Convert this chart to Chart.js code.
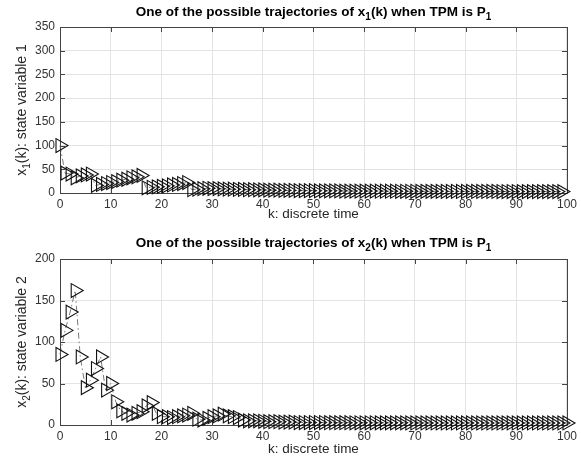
<!DOCTYPE html>
<html>
<head>
<meta charset="utf-8">
<script src="https://cdn.jsdelivr.net/npm/chart.js@4/dist/chart.umd.min.js"></script>
<style>
  html, body { margin: 0; padding: 0; background: #fff; }
  #wrap { position: relative; width: 581px; height: 461px; }
  .pane { position: absolute; left: 0; width: 581px; }
  #pane1 { top: 0; height: 230px; }
  #pane2 { top: 230px; height: 231px; }
</style>
</head>
<body>
<div id="wrap">
  <div class="pane" id="pane1"><canvas id="chart1"></canvas></div>
  <div class="pane" id="pane2"><canvas id="chart2"></canvas></div>
</div>
<script>
// Trajectories of the two state variables, k = 0..100

// state variable 1
var x1Values = [
  100,
  42, 40, 32, 36, 38, 40,
  16, 18, 20, 22, 24, 27, 29, 32, 34, 37,
  11, 12, 13, 14, 15, 17, 18, 20, 22,
  7, 8, 9, 10,
  9, 9, 8.5, 8, 8, 7.5, 7.5, 7, 7, 6.5,
  6.5, 6, 6, 6, 5.5, 5.5, 5.5, 5, 5, 5,
  5, 4.5, 4.5, 4.5, 4.5, 4.5, 4, 4, 4, 4,
  4, 4, 4, 3.8, 3.8, 3.8, 3.8, 3.6, 3.6, 3.6,
  3.6, 3.5, 3.5, 3.5, 3.5, 3.4, 3.4, 3.4, 3.4, 3.3,
  3.3, 3.3, 3.3, 3.2, 3.2, 3.2, 3.2, 3.1, 3.1, 3.1,
  3.1, 3, 3, 3, 3, 3, 3, 3, 3, 3
];

// state variable 2
var x2Values = [
  85, 114, 136, 162, 82, 45, 54, 68, 82, 42,
  50, 28, 17, 14, 12, 14, 16, 23, 27, 14,
  10, 10, 9, 10, 11, 12, 14, 7, 6, 8,
  10, 11, 13, 11, 10, 9, 6, 5, 5, 5,
  4.5, 4, 4, 4, 3.5, 3.5, 3.5, 3, 3, 3,
  3, 3, 3, 2.8, 2.8, 2.8, 2.8, 2.8, 2.7, 2.7,
  2.7, 2.7, 2.7, 2.6, 2.6, 2.6, 2.6, 2.6, 2.6, 2.5,
  2.5, 2.5, 2.5, 2.5, 2.5, 2.5, 2.5, 2.5, 2.5, 2.5,
  2.5, 2.5, 2.5, 2.5, 2.5, 2.5, 2.5, 2.5, 2.5, 2.5,
  2.5, 2.5, 2.5, 2.5, 2.5, 2.5, 2.5, 2.5, 2.5, 2.5,
  2.5
];

var xTicks = [0, 10, 20, 30, 40, 50, 60, 70, 80, 90, 100];
var y1Ticks = [0, 50, 100, 150, 200, 250, 300, 350];
var y2Ticks = [0, 50, 100, 150, 200];

var title1 = [{ t: 'One of the possible trajectories of x' }, { t: '1', sub: true }, { t: '(k) when TPM is P' }, { t: '1', sub: true }];
var title2 = [{ t: 'One of the possible trajectories of x' }, { t: '2', sub: true }, { t: '(k) when TPM is P' }, { t: '1', sub: true }];
var yLabel1 = [{ t: 'x' }, { t: '1', sub: true }, { t: '(k): state variable 1' }];
var yLabel2 = [{ t: 'x' }, { t: '2', sub: true }, { t: '(k): state variable 2' }];
var xLabel = 'k: discrete time';

var FONT = '"Liberation Sans", Arial, Helvetica, sans-serif';
var AXIS_COLOR = '#444';
var GRID_COLOR = '#e3e3e3';

// draw a string with subscript pieces, centred on x
function drawRich(ctx, parts, x, y, size, weight) {
  var subSize = Math.round(size * 0.72);
  var widths = parts.map(function (p) {
    ctx.font = weight + ' ' + (p.sub ? subSize : size) + 'px ' + FONT;
    return ctx.measureText(p.t).width;
  });
  var total = widths.reduce(function (a, b) { return a + b; }, 0);
  var cx = x - total / 2;
  ctx.textAlign = 'left';
  ctx.textBaseline = 'alphabetic';
  parts.forEach(function (p, i) {
    ctx.font = weight + ' ' + (p.sub ? subSize : size) + 'px ' + FONT;
    ctx.fillText(p.t, cx, y + (p.sub ? size * 0.3 : 0));
    cx += widths[i];
  });
}

// frame, inward ticks and the text pieces Chart.js cannot do (subscripts)
var framePlugin = {
  id: 'matlabFrame',
  beforeDatasetsDraw: function (chart) {
    var ctx = chart.ctx;
    var a = chart.chartArea;
    var xs = chart.scales.x, ys = chart.scales.y;
    ctx.save();
    ctx.strokeStyle = AXIS_COLOR;
    ctx.lineWidth = 1;
    ctx.beginPath();
    ctx.rect(Math.round(a.left) + 0.5, Math.round(a.top) + 0.5,
      Math.round(a.right - a.left), Math.round(a.bottom - a.top));
    ctx.stroke();
    var tl = 5;
    ctx.beginPath();
    xs.ticks.forEach(function (t) {
      var px = Math.round(xs.getPixelForValue(t.value)) + 0.5;
      ctx.moveTo(px, a.bottom); ctx.lineTo(px, a.bottom - tl);
      ctx.moveTo(px, a.top); ctx.lineTo(px, a.top + tl);
    });
    ys.ticks.forEach(function (t) {
      var py = Math.round(ys.getPixelForValue(t.value)) + 0.5;
      ctx.moveTo(a.left, py); ctx.lineTo(a.left + tl, py);
      ctx.moveTo(a.right, py); ctx.lineTo(a.right - tl, py);
    });
    ctx.stroke();
    ctx.restore();
  },
  afterDraw: function (chart) {
    var o = chart.options.plugins.matlabFrame;
    var ctx = chart.ctx;
    var a = chart.chartArea;
    ctx.save();
    ctx.fillStyle = '#000';
    drawRich(ctx, o.title, (a.left + a.right) / 2, o.titleY, 13.5, 'bold');
    ctx.fillStyle = '#262626';
    drawRich(ctx, [{ t: xLabel }], (a.left + a.right) / 2, o.xLabelY, 13.5, 'normal');
    ctx.translate(o.yLabelX, (a.top + a.bottom) / 2);
    ctx.rotate(-Math.PI / 2);
    drawRich(ctx, o.yLabel, 0, 0, 14, 'normal');
    ctx.restore();
  }
};

function makeChart(id, values, yMax, yTicks, opts) {
  var pts = values.map(function (v, k) { return { x: k, y: v }; });
  return new Chart(document.getElementById(id), {
    type: 'line',
    data: {
      datasets: [{
        data: pts,
        clip: false,
        borderColor: '#555',
        borderWidth: 0.8,
        borderDash: [6, 3, 1.5, 3],
        pointStyle: 'triangle',
        pointRotation: 90,
        pointRadius: 8,
        pointBorderColor: '#111',
        pointBorderWidth: 1.1,
        pointBackgroundColor: 'rgba(0,0,0,0)',
        fill: false,
        tension: 0
      }]
    },
    options: {
      responsive: true,
      maintainAspectRatio: false,
      animation: false,
      layout: { padding: { left: 0, right: 14, top: opts.top, bottom: 0 } },
      scales: {
        x: {
          type: 'linear', min: 0, max: 100,
          afterBuildTicks: function (s) { s.ticks = xTicks.map(function (v) { return { value: v }; }); },
          afterFit: function (s) { s.height = opts.xHeight; },
          grid: { color: GRID_COLOR, drawTicks: false },
          border: { display: false },
          ticks: { padding: 4, color: '#333', font: { family: FONT, size: 12 }, maxRotation: 0 }
        },
        y: {
          type: 'linear', min: 0, max: yMax,
          afterBuildTicks: function (s) { s.ticks = yTicks.map(function (v) { return { value: v }; }); },
          afterFit: function (s) { s.width = 60; },
          grid: { color: GRID_COLOR, drawTicks: false },
          border: { display: false },
          ticks: { padding: 5, color: '#333', font: { family: FONT, size: 12 } }
        }
      },
      plugins: {
        legend: { display: false },
        tooltip: { enabled: false },
        matlabFrame: opts.frame
      }
    },
    plugins: [framePlugin]
  });
}

makeChart('chart1', x1Values, 350, y1Ticks, {
  top: 27, xHeight: 37,
  frame: { title: title1, titleY: 16, xLabelY: 218, yLabel: yLabel1, yLabelX: 26 }
});
makeChart('chart2', x2Values, 200, y2Ticks, {
  top: 29, xHeight: 36,
  frame: { title: title2, titleY: 17, xLabelY: 223, yLabel: yLabel2, yLabelX: 26 }
});
</script>
</body>
</html>
